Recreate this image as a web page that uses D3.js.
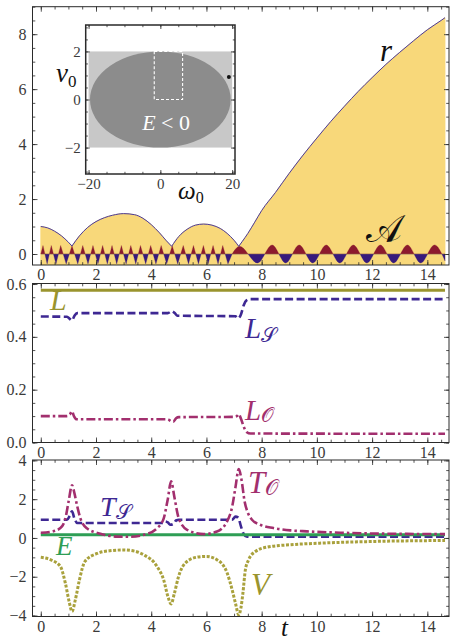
<!DOCTYPE html>
<html><head><meta charset="utf-8">
<script src="https://cdn.jsdelivr.net/npm/d3@7"></script>
<style>
body{margin:0;background:#fff;}
svg{display:block;}
text{font-family:"Liberation Serif","Times New Roman",serif;}
</style></head><body>
<svg id="chart" width="450" height="643"></svg>
<script>
// ---------- time axis ----------
const tTicks = [0, 2, 4, 6, 8, 10, 12, 14];

// ---------- panel 1: separation r(t) and the phase signal A(t) ----------
const rT = [0, 0.25, 0.5, 0.75, 1.0, 1.13,
  1.4, 1.7, 2.0, 2.3, 2.6, 3.0, 3.4, 3.7, 4.0, 4.3, 4.55, 4.74,
  5.0, 5.3, 5.6, 5.9, 6.2, 6.5, 6.75, 7.0, 7.17,
  7.3, 7.5, 7.75, 8.0, 8.5, 9.0, 9.5, 10.0, 10.5, 11.0, 11.5, 12.0, 12.5, 13.0, 13.5, 14.0, 14.5, 14.64];
const rV = [1.0, 0.95, 0.83, 0.66, 0.43, 0.29,
  0.66, 0.97, 1.18, 1.32, 1.41, 1.47, 1.43, 1.3, 1.07, 0.77, 0.48, 0.28,
  0.64, 0.9, 1.05, 1.09, 1.05, 0.93, 0.75, 0.5, 0.28,
  0.46, 0.75, 1.16, 1.58, 2.24, 2.94, 3.6, 4.22, 4.82, 5.38, 5.92, 6.42, 6.9, 7.34, 7.76, 8.16, 8.5, 8.6];
const rCusps = [1.13, 4.74, 7.17];

// fast oscillation of A: successive extremes (sharp)
const aFastT = [0, 0.08, 0.23, 0.38, 0.55, 0.72, 0.92, 1.13, 1.34, 1.52, 1.71, 1.89, 2.07, 2.24, 2.41,
  2.58, 2.75, 2.92, 3.09, 3.26, 3.44, 3.61, 3.8, 3.98, 4.17, 4.36, 4.56, 4.76, 4.96, 5.16,
  5.35, 5.53, 5.71, 5.89, 6.06, 6.24, 6.42, 6.59, 6.78, 6.93];
const aFastV = [0, 0.31, -0.36, 0.31, -0.36, 0.31, -0.36, 0.3, -0.36, 0.31, -0.36, 0.31, -0.36, 0.31, -0.36,
  0.31, -0.36, 0.31, -0.36, 0.31, -0.36, 0.31, -0.36, 0.31, -0.36, 0.31, -0.36, 0.3, -0.36, 0.31,
  -0.36, 0.31, -0.36, 0.31, -0.36, 0.31, -0.36, 0.31, -0.36, 0];
// slow oscillation of A after the escape (smooth)
const aSlowT = [6.93, 7.2, 7.85, 8.38, 8.87, 9.36, 9.85, 10.34, 10.83, 11.32, 11.81, 12.3, 12.78, 13.28, 13.76, 14.26, 14.64];
const aSlowV = [0, 0.28, -0.33, 0.33, -0.33, 0.33, -0.33, 0.33, -0.33, 0.33, -0.33, 0.33, -0.33, 0.33, -0.33, 0.33, -0.25];

// inset: initial-condition plane
const insetOmegaTicks = [-20, 0, 20];
const insetVTicks = [-2, 0, 2];
const boxOmega = [-20, 20], boxV = [-2, 2];
const ellipseSemi = [19.6, 2.0];
const dashOmega = [-1.7, 6.2], dashV = [0, 2];
const pointOmega = 19.1, pointV = 0.94;

// ---------- panel 2: angular momenta ----------
const lT = [0, 14.64];
const lV = [0.576, 0.576];
const lsT = [0, 0.95, 1.05, 1.13, 1.22, 1.32, 4.6, 4.75, 4.85, 4.95, 7.05, 7.15, 7.25, 7.35, 7.45, 7.6, 14.64];
const lsV = [0.477, 0.476, 0.468, 0.462, 0.48, 0.49, 0.49, 0.497, 0.49, 0.48, 0.478, 0.47, 0.485, 0.52, 0.538, 0.543, 0.543];
const loT = [0, 0.95, 1.05, 1.13, 1.2, 1.3, 4.6, 4.72, 4.8, 4.9, 5.0, 7.0, 7.1, 7.17, 7.25, 7.35, 7.45, 7.6, 14.64];
const loV = [0.1, 0.1, 0.106, 0.118, 0.1, 0.088, 0.088, 0.08, 0.079, 0.092, 0.096, 0.097, 0.1, 0.107, 0.09, 0.06, 0.04, 0.034, 0.033];

// ---------- panel 3: energies ----------
const eT = [0, 14.64];
const eV = [0.16, 0.16];
const tsT = [0, 0.95, 1.05, 1.13, 1.22, 1.32, 4.4, 4.5, 4.6, 4.7, 4.8, 4.9, 5.0, 6.93, 7.05, 7.15, 7.25, 7.35, 7.45, 7.6, 14.64];
const tsV = [0.94, 0.94, 1.15, 1.37, 1.0, 0.77, 0.77, 0.85, 0.8, 0.68, 0.72, 0.9, 0.94, 0.94, 1.1, 1.05, 0.6, 0.2, 0.08, 0.06, 0.06];
const toT = [0, 0.4, 0.71, 0.89, 1.01, 1.13, 1.22, 1.31, 1.43, 1.67, 2.16, 2.76, 3.24, 3.73, 4.21, 4.45, 4.6, 4.72,
  4.84, 4.99, 5.3, 5.9, 6.38, 6.75, 6.93, 7.05, 7.17, 7.27, 7.38, 7.5, 7.65, 7.95, 8.43, 9.04, 9.64, 10.85, 12.06, 13.27, 14.64];
const toV = [0.27, 0.33, 0.51, 1.0, 1.9, 2.72, 2.3, 1.7, 1.03, 0.5, 0.22, 0.07, 0.06, 0.16, 0.5, 1.0, 2.0, 2.92,
  2.1, 1.05, 0.42, 0.2, 0.33, 0.86, 1.6, 2.6, 3.55, 3.0, 1.9, 1.3, 0.94, 0.68, 0.51, 0.39, 0.34, 0.27, 0.23, 0.21, 0.2];
const vT = [0, 0.4, 0.71, 0.89, 1.03, 1.13, 1.25, 1.4, 1.6, 2.04, 2.5, 3.0, 3.4, 3.73, 4.21, 4.45, 4.6, 4.72, 4.84,
  4.99, 5.23, 5.66, 6.0, 6.38, 6.75, 6.93, 7.05, 7.17, 7.25, 7.32, 7.41, 7.53, 7.77, 8.2, 9.04, 10.25, 12.06, 14.64];
const vV = [-1.0, -1.15, -1.47, -2.33, -3.3, -3.79, -3.2, -2.16, -1.21, -0.8, -0.66, -0.62, -0.68, -0.87, -1.47, -2.16, -3.0, -3.4, -2.85,
  -1.99, -1.3, -0.99, -0.95, -1.12, -1.81, -2.67, -3.36, -3.96, -3.6, -2.85, -1.64, -1.12, -0.7, -0.47, -0.35, -0.26, -0.18, -0.13];

// ---------- colours ----------
const C = {
  yellow: "#F8D87A", rLine: "#4A3A9C", aRed: "#8C1A2E", aBlue: "#371A7C",
  olive: "#9A942E", oliveDot: "#A9A13C", purple: "#3E2893", magenta: "#A22F6E", green: "#2E9E55",
  frame: "#2a2a2a", tickText: "#3a3a3a"
};
const SERIF = '"Liberation Serif","Times New Roman",serif';
const SCRIPT = '"DejaVu Serif","DejaVu Sans",serif';

const svg = d3.select("#chart");
const X0 = 32.5, X1 = 449;
const x = d3.scaleLinear().domain([-0.3, 14.785]).range([X0, X1]);
const zip = (a, b) => a.map((v, i) => [v, b[i]]);
const range = (a, b, s) => d3.range(a, b + s / 2, s);

function frame(g, xs, ys, o) {
  const [xa, xb] = xs.range(), [yb, ya] = ys.range();
  const ax = (gen, tr) => g.append("g").attr("transform", tr).call(gen)
    .attr("font-family", SERIF).attr("font-size", o.fs)
    .call(s => s.select(".domain").remove());
  const style = s => { s.selectAll("line").attr("stroke", C.frame).attr("stroke-width", 0.8);
    s.selectAll("text").attr("fill", C.tickText).style("font-size", o.fs + "px").style("font-family", SERIF); };
  // minor ticks
  ax(d3.axisBottom(xs).tickValues(o.xMinor).tickSize(-o.minor).tickFormat(""), `translate(0,${yb})`).call(style);
  ax(d3.axisTop(xs).tickValues(o.xMinor).tickSize(-o.minor).tickFormat(""), `translate(0,${ya})`).call(style);
  ax(d3.axisLeft(ys).tickValues(o.yMinor).tickSize(-o.minor).tickFormat(""), `translate(${xa},0)`).call(style);
  ax(d3.axisRight(ys).tickValues(o.yMinor).tickSize(-o.minor).tickFormat(""), `translate(${xb},0)`).call(style);
  // major ticks
  ax(d3.axisBottom(xs).tickValues(o.xMajor).tickSize(-o.major).tickPadding(o.xPad).tickFormat(o.xFmt), `translate(0,${yb})`).call(style);
  ax(d3.axisTop(xs).tickValues(o.xMajor).tickSize(-o.major).tickFormat(""), `translate(0,${ya})`).call(style);
  ax(d3.axisLeft(ys).tickValues(o.yMajor).tickSize(-o.major).tickPadding(o.yPad).tickFormat(o.yFmt), `translate(${xa},0)`).call(style);
  ax(d3.axisRight(ys).tickValues(o.yMajor).tickSize(-o.major).tickFormat(""), `translate(${xb},0)`).call(style);
  g.append("rect").attr("x", xa).attr("y", ya).attr("width", xb - xa).attr("height", yb - ya)
    .attr("fill", "none").attr("stroke", C.frame).attr("stroke-width", o.frameW || 1);
}

function label(g, px, py, main, sub, size, color, opts = {}) {
  const t = g.append("text").attr("x", px).attr("y", py).attr("fill", color)
    .style("font-size", size + "px").style("font-style", "italic").style("font-family", SERIF);
  t.append("tspan").text(main);
  if (sub) t.append("tspan").text(sub).attr("dy", opts.dy || size * 0.2)
    .style("font-size", (opts.subSize || size * 0.68) + "px")
    .style("font-style", opts.subItalic ? "italic" : "normal")
    .style("font-family", opts.subFamily || SERIF);
  return t;
}

const fmtInt = d3.format("d");

// ================= PANEL 1 =================
const y1 = d3.scaleLinear().domain([-0.4, 9.0]).range([265, 6.7]);
const p1 = svg.append("g");
p1.append("clipPath").attr("id", "clip1").append("rect")
  .attr("x", X0).attr("y", 6.7).attr("width", X1 - X0).attr("height", 265 - 6.7);
const body1 = p1.append("g").attr("clip-path", "url(#clip1)");

// split r into arcs between close approaches
const rPts = zip(rT, rV);
const bounds = [0, ...rCusps, Infinity];
const arcs = [];
for (let i = 0; i < bounds.length - 1; i++)
  arcs.push(rPts.filter(p => p[0] >= bounds[i] - 1e-9 && p[0] <= bounds[i + 1] + 1e-9));

const rArea = d3.area().x(d => x(d[0])).y0(y1(-0.4)).y1(d => y1(d[1])).curve(d3.curveMonotoneX);
const rLine = d3.line().x(d => x(d[0])).y(d => y1(d[1])).curve(d3.curveMonotoneX);
arcs.forEach(a => body1.append("path").attr("d", rArea(a)).attr("fill", C.yellow)
  .attr("stroke", C.yellow).attr("stroke-width", 0.8));

// A(t): red above zero, blue below
const y0px = y1(0);
const defs = svg.append("defs");
defs.append("clipPath").attr("id", "clipPos").append("rect").attr("x", X0).attr("y", 0).attr("width", X1 - X0).attr("height", y0px);
defs.append("clipPath").attr("id", "clipNeg").append("rect").attr("x", X0).attr("y", y0px).attr("width", X1 - X0).attr("height", 300);
const aFastArea = d3.area().x(d => x(d[0])).y0(y0px).y1(d => y1(d[1])).curve(d3.curveLinear);
const aSlowArea = d3.area().x(d => x(d[0])).y0(y0px).y1(d => y1(d[1])).curve(d3.curveMonotoneX);
const aFast = zip(aFastT, aFastV), aSlow = zip(aSlowT, aSlowV);
[["clipPos", C.aRed], ["clipNeg", C.aBlue]].forEach(([cid, col]) => {
  const g = body1.append("g").attr("clip-path", `url(#${cid})`);
  g.append("path").attr("d", aFastArea(aFast)).attr("fill", col).attr("stroke", col).attr("stroke-width", 0.3);
  g.append("path").attr("d", aSlowArea(aSlow)).attr("fill", col).attr("stroke", col).attr("stroke-width", 0.3);
});
body1.append("line").attr("x1", x(0)).attr("x2", x(14.64)).attr("y1", y0px).attr("y2", y0px)
  .attr("stroke", "#9a7a4a").attr("stroke-width", 0.6).attr("opacity", 0.7);

arcs.forEach(a => body1.append("path").attr("d", rLine(a)).attr("fill", "none")
  .attr("stroke", C.rLine).attr("stroke-width", 1));

frame(p1, x, y1, { xMajor: tTicks, xMinor: range(0, 14.5, 0.5), yMajor: [0, 2, 4, 6, 8], yMinor: range(-0.0, 9, 0.5),
  major: 5, minor: 2.8, xPad: 4, yPad: 6, xFmt: fmtInt, yFmt: fmtInt, fs: 16 });

label(p1, 380, 61, "r", null, 31, "#111");
p1.append("text").attr("x", 366).attr("y", 242).text("𝒜").attr("fill", "#111")
  .style("font-size", "38px").style("font-family", SCRIPT);

// ---- inset ----
const xi = d3.scaleLinear().domain([-20.8, 20.8]).range([85.7, 235]);
const yi = d3.scaleLinear().domain([-3.1, 3.1]).range([174, 25]);
const ins = svg.append("g");
ins.append("rect").attr("x", 85.7).attr("y", 25).attr("width", 235 - 85.7).attr("height", 149).attr("fill", "#fff");
ins.append("rect").attr("x", xi(boxOmega[0])).attr("y", yi(boxV[1]))
  .attr("width", xi(boxOmega[1]) - xi(boxOmega[0])).attr("height", yi(boxV[0]) - yi(boxV[1])).attr("fill", "#C8C8C8");
ins.append("ellipse").attr("cx", xi(0)).attr("cy", yi(0))
  .attr("rx", xi(ellipseSemi[0]) - xi(0)).attr("ry", yi(0) - yi(ellipseSemi[1])).attr("fill", "#8C8C8C");
ins.append("rect").attr("x", xi(dashOmega[0])).attr("y", yi(dashV[1]))
  .attr("width", xi(dashOmega[1]) - xi(dashOmega[0])).attr("height", yi(dashV[0]) - yi(dashV[1]))
  .attr("fill", "none").attr("stroke", "#fff").attr("stroke-width", 1.1).attr("stroke-dasharray", "3,2");
ins.append("circle").attr("cx", xi(pointOmega)).attr("cy", yi(pointV)).attr("r", 2).attr("fill", "#111");
frame(ins, xi, yi, { xMajor: insetOmegaTicks, xMinor: range(-20, 20, 5), yMajor: insetVTicks, yMinor: range(-3, 3, 0.5),
  major: 4, minor: 2.2, xPad: 4, yPad: 5, xFmt: fmtInt, yFmt: fmtInt, fs: 15, frameW: 1.5 });
const eLab = ins.append("text").attr("x", xi(1.6)).attr("y", 130).attr("text-anchor", "middle")
  .attr("fill", "#fff").style("font-size", "22px").style("font-family", SERIF);
eLab.append("tspan").text("E").style("font-style", "italic");
eLab.append("tspan").text(" < 0");
label(ins, 56, 82, "v", "0", 27, "#111", { dy: 5, subSize: 17 });
label(ins, 178, 199, "ω", "0", 25, "#111", { dy: 4, subSize: 16 });

// ================= PANEL 2 =================
const y2 = d3.scaleLinear().domain([0, 0.602]).range([442.5, 283.5]);
const p2 = svg.append("g");
const line2 = d3.line().x(d => x(d[0])).y(d => y2(d[1])).curve(d3.curveMonotoneX);
p2.append("path").attr("d", line2(zip(lT, lV))).attr("fill", "none").attr("stroke", C.olive).attr("stroke-width", 3);
p2.append("path").attr("d", line2(zip(lsT, lsV))).attr("fill", "none").attr("stroke", C.purple)
  .attr("stroke-width", 2.6).attr("stroke-dasharray", "8,3.5");
p2.append("path").attr("d", line2(zip(loT, loV))).attr("fill", "none").attr("stroke", C.magenta)
  .attr("stroke-width", 2.6).attr("stroke-dasharray", "9,3,2.5,3");
frame(p2, x, y2, { xMajor: tTicks, xMinor: range(0, 14.5, 0.5), yMajor: [0, 0.2, 0.4, 0.6], yMinor: range(0, 0.6, 0.05),
  major: 5, minor: 2.8, xPad: 4, yPad: 6, xFmt: fmtInt, yFmt: d3.format(".1f"), fs: 16 });
label(p2, 50, 310, "L", null, 30, C.olive);
label(p2, 245, 338, "L", "𝒮", 29, C.purple, { dy: 4, subSize: 20, subFamily: SCRIPT });
label(p2, 245, 420, "L", "𝒪", 29, C.magenta, { dy: 2, subSize: 20, subFamily: SCRIPT });

// ================= PANEL 3 =================
const y3 = d3.scaleLinear().domain([-4.05, 4.02]).range([616.5, 460]);
const p3 = svg.append("g");
const line3 = d3.line().x(d => x(d[0])).y(d => y3(d[1])).curve(d3.curveMonotoneX);
p3.append("path").attr("d", line3(zip(vT, vV))).attr("fill", "none").attr("stroke", C.oliveDot)
  .attr("stroke-width", 3).attr("stroke-dasharray", "3,1.6");
p3.append("path").attr("d", line3(zip(tsT, tsV))).attr("fill", "none").attr("stroke", C.purple)
  .attr("stroke-width", 2.6).attr("stroke-dasharray", "8,3.5");
p3.append("path").attr("d", line3(zip(eT, eV))).attr("fill", "none").attr("stroke", C.green).attr("stroke-width", 3);
p3.append("path").attr("d", line3(zip(toT, toV))).attr("fill", "none").attr("stroke", C.magenta)
  .attr("stroke-width", 2.6).attr("stroke-dasharray", "9,3,2.5,3");
frame(p3, x, y3, { xMajor: tTicks, xMinor: range(0, 14.5, 0.5), yMajor: [-4, -2, 0, 2, 4], yMinor: range(-4, 4, 0.5),
  major: 5, minor: 2.8, xPad: 4, yPad: 6, xFmt: fmtInt, yFmt: fmtInt, fs: 16 });
label(p3, 248, 493, "T", "𝒪", 31, C.magenta, { dy: 2, subSize: 21, subFamily: SCRIPT });
label(p3, 100, 516, "T", "𝒮", 28, C.purple, { dy: 3, subSize: 20, subFamily: SCRIPT });
label(p3, 56, 555, "E", null, 27, C.green);
label(p3, 251, 595, "V", null, 31, C.olive);
label(p3, 281, 636, "t", null, 25, "#111");
</script>
</body></html>
